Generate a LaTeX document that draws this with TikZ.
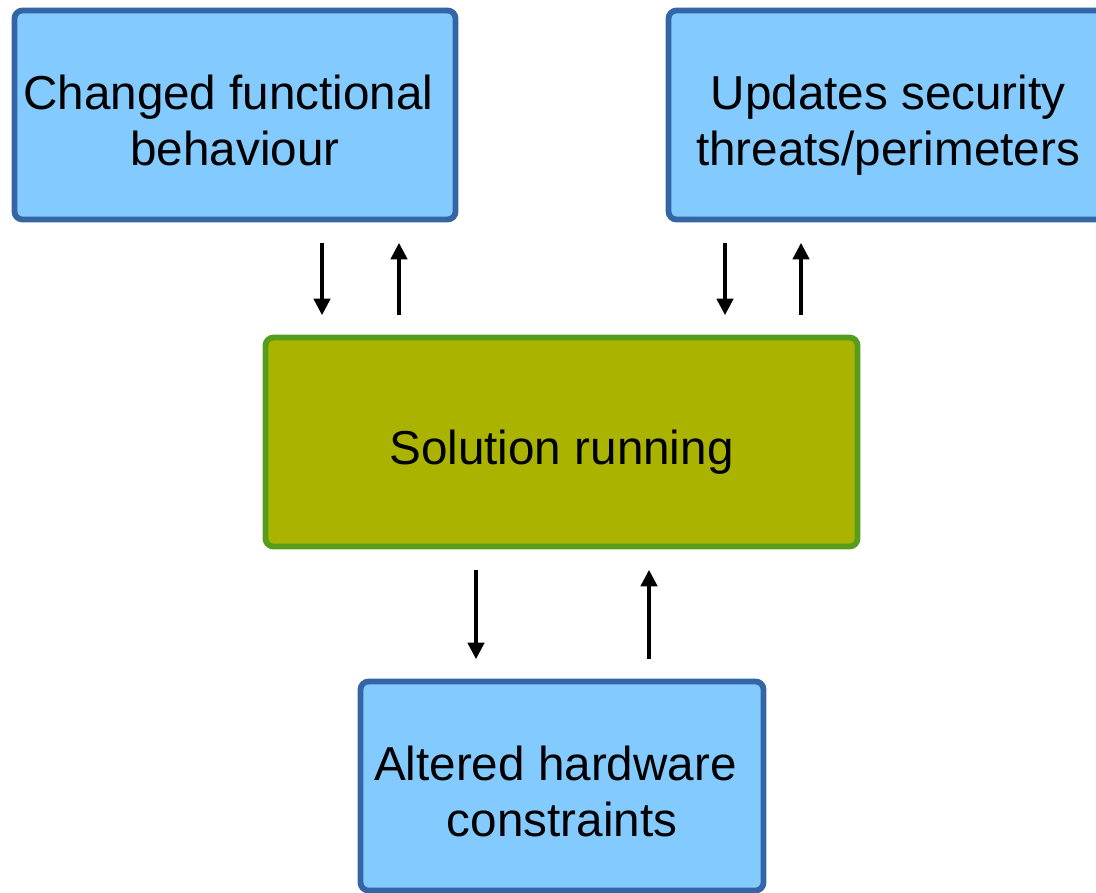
\documentclass[tikz,border=0pt]{standalone}
\usepackage{fontspec}
\setmainfont{Liberation Sans}
\usetikzlibrary{arrows.meta}
\definecolor{boxblue}{HTML}{83CAFF}
\definecolor{edgeblue}{HTML}{3465A4}
\definecolor{runfill}{HTML}{AAB400}
\definecolor{runedge}{HTML}{579D1C}
\newcommand{\topst}{\rule{0pt}{1.2em}}
\newcommand{\botst}{\rule[-0.25em]{0pt}{0pt}}

\begin{document}
\begin{tikzpicture}[
		bluebox/.style={draw=edgeblue, fill=boxblue, line width=3.3pt, rounded corners=0.16cm,
			minimum height=4.18cm, align=center, inner sep=0pt},
		runbox/.style={draw=runedge, fill=runfill, line width=3.3pt, rounded corners=0.16cm,
			minimum width=11.84cm, minimum height=4.18cm, align=center},
		flow/.style={-{Triangle[length=0.33cm,width=0.33cm]}, line width=1.8pt, black}]
		\useasboundingbox (0,0) rectangle (21.92,-17.84);
		\clip (0,0) rectangle (21.92,-17.84);
		\fontsize{27.1pt}{31.9pt}\selectfont
	
		\node[bluebox, minimum width=8.82cm] (changed) at (4.70,-2.30) {\topst Changed functional\hspace*{0.278em}\\behaviour\botst};
		\node[bluebox, minimum width=8.78cm] (updates) at (17.76,-2.30) {\topst Updates security\\threats/perimeters\botst};
		\node[runbox] (running) at (11.23,-8.84) {\topst Solution running\botst};
		\node[bluebox, minimum width=8.06cm] (altered) at (11.24,-15.72) {\topst Altered hardware\hspace*{0.278em}\\constraints\botst};
	
		\draw[flow, shorten <=0.41cm, shorten >=0.39cm] (changed.south -| 6.44,0) -- (running.north -| 6.44,0);
		\draw[flow, shorten <=0.39cm, shorten >=0.41cm] (running.north -| 7.98,0) -- (changed.south -| 7.98,0);
	
		\draw[flow, shorten <=0.41cm, shorten >=0.39cm] (updates.south -| 14.50,0) -- (running.north -| 14.50,0);
		\draw[flow, shorten <=0.39cm, shorten >=0.41cm] (running.north -| 16.02,0) -- (updates.south -| 16.02,0);
	
		\draw[flow, shorten <=0.41cm, shorten >=0.39cm] (running.south -| 9.52,0) -- (altered.north -| 9.52,0);
		\draw[flow, shorten <=0.39cm, shorten >=0.41cm] (altered.north -| 12.98,0) -- (running.south -| 12.98,0);
	\end{tikzpicture}
\end{document}
